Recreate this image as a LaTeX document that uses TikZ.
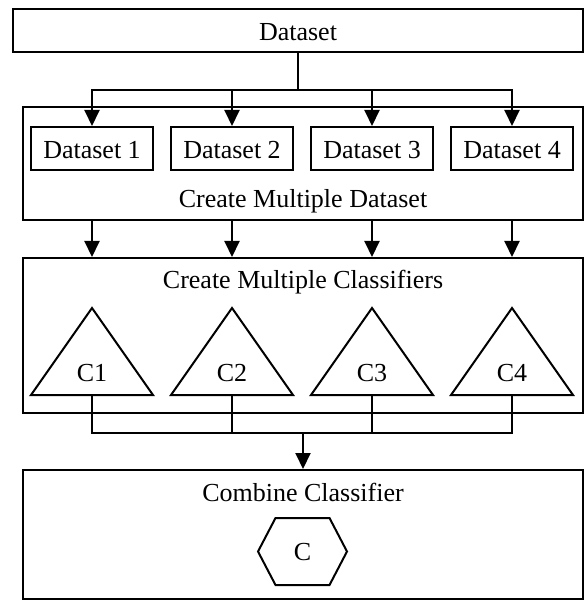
\documentclass[tikz,border=0pt]{standalone}
\usepackage{fontspec}
\setmainfont{Liberation Serif}
\usetikzlibrary{arrows.meta}

\begin{document}
\begin{tikzpicture}[x=1pt, y=-1pt, line width=2pt,
    font=\fontsize{26}{31}\selectfont,
    box/.style ={rectangle, draw, inner sep=0pt, text height=20pt, text depth=0pt},
    frame/.style ={rectangle, draw, inner sep=0pt, minimum width=560pt},
    title/.style ={anchor=base, inner sep=0pt},
    flow/.style ={-{Triangle[length=16pt, width=15pt]}}]
   \useasboundingbox (0,0) rectangle (587,601);

   \node[box, minimum width=570pt, minimum height=43pt] (data) at (298,30.5) {Dataset};

   \node[frame, minimum height=113pt] (make) at (303,163.5) {};
   \node[title] (maketitle) at (303,208) {Create Multiple Dataset};
   \node[frame, minimum height=155pt] (train) at (303,335.5) {};
   \node[title] (traintitle) at (303,288) {Create Multiple Classifiers};
   \node[frame, minimum height=128.5pt] (merge) at (303,534.25) {};
   \node[title] (mergetitle) at (303,501) {Combine Classifier};

   \coordinate (fork) at (298,90);
   \coordinate (join) at (303,433);

   \foreach \i/\x in {1/92, 2/232, 3/372, 4/512} {
      \node[box, minimum width=122pt, minimum height=43pt] (ds\i) at (\x,148.5) {Dataset \i};
      \draw[flow] (data) -- (fork) -| (ds\i);
      \draw[flow] (ds\i |- make.south) -- (ds\i |- train.north);

      \draw (\x,308) -- (\x+61,395) -- (\x-61,395) -- cycle;
      \node[title] (c\i) at (\x,381.5) {C\i};
      \coordinate (b\i) at (\x,395);
      \draw (b\i) |- (join);
   }

   \draw[flow] (join) -- (merge);

   \node[title] (cmb) at (302.5,560.5) {C};
   \draw (258,551.5) -- (275.5,518) -- (329.5,518) -- (347,551.5)
      -- (329.5,585) -- (275.5,585) -- cycle;

 \end{tikzpicture}
\end{document}
